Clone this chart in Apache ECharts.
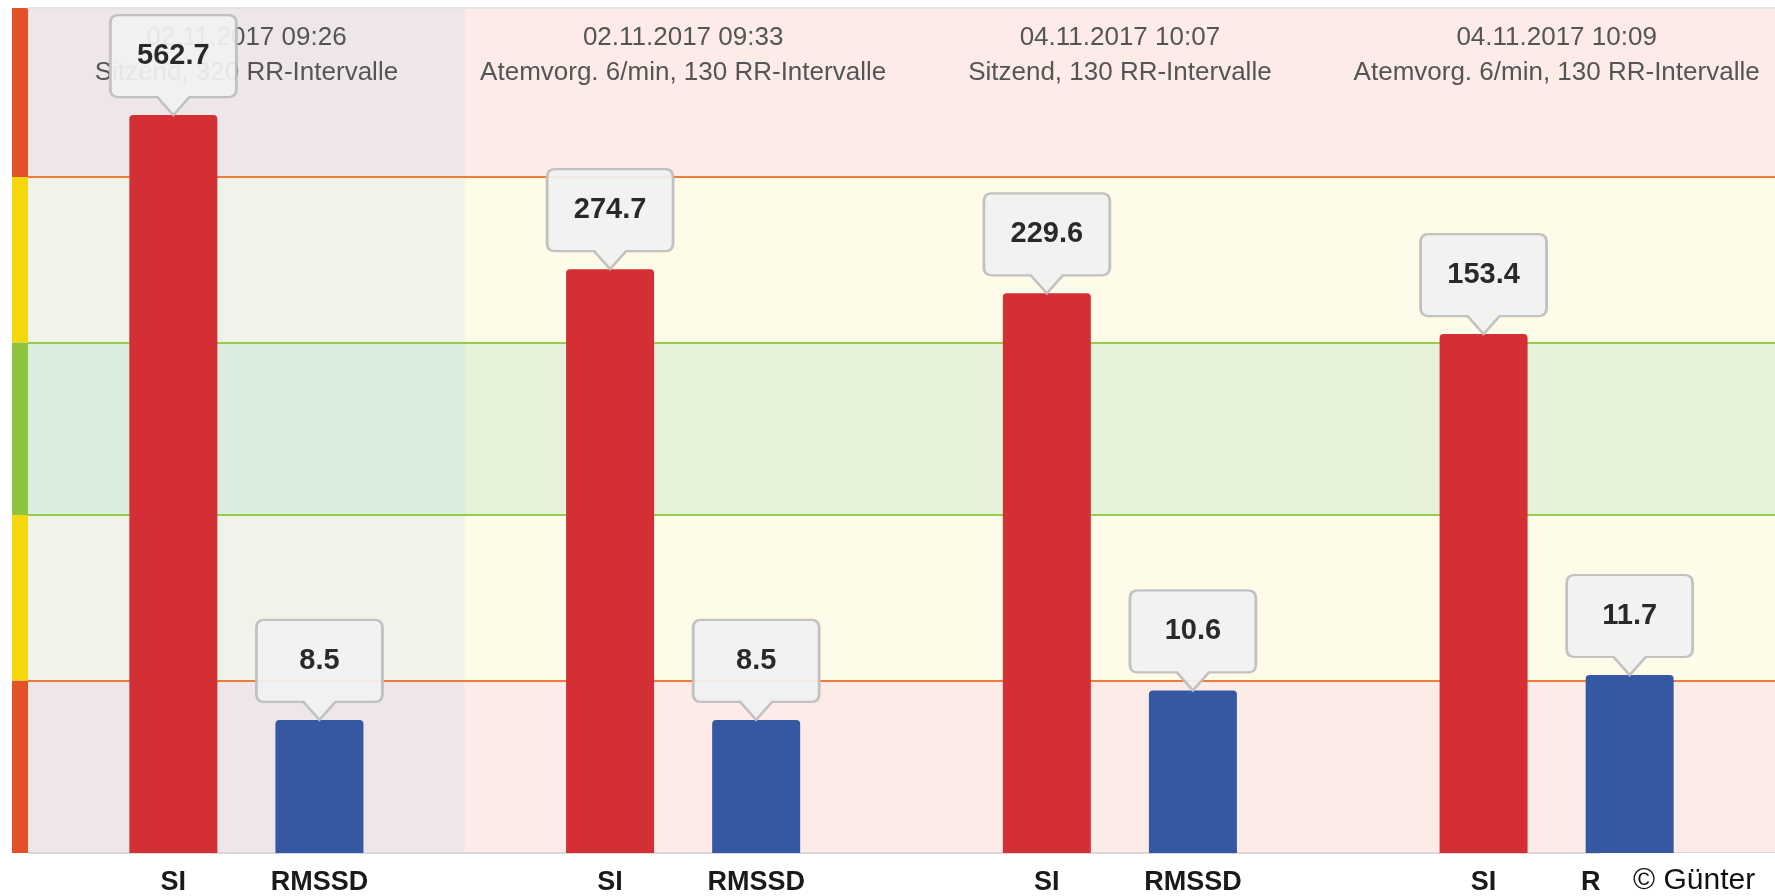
<!DOCTYPE html>
<html lang="de">
<head>
    <meta charset="UTF-8">
    <title>SI / RMSSD</title>
    <script src="https://cdn.jsdelivr.net/npm/echarts@6/dist/echarts.min.js"></script>
    <style>
        html, body { margin: 0; padding: 0; background: #fff; }
        #main { width: 1775px; height: 896px; }
    </style>
</head>
<body>
    <div id="main"></div>
    <script>
        // Messungen (Kopfzeilen oben)
        var groups = [
            '02.11.2017 09:26\nSitzend, 320 RR-Intervalle',
            '02.11.2017 09:33\nAtemvorg. 6/min, 130 RR-Intervalle',
            '04.11.2017 10:07\nSitzend, 130 RR-Intervalle',
            '04.11.2017 10:09\nAtemvorg. 6/min, 130 RR-Intervalle'
        ];
        var siValues = [562.7, 274.7, 229.6, 153.4];
        var rmssdValues = [8.5, 8.5, 10.6, 11.7];

        // Zonen: unten rot, gelb, gruen, gelb, oben rot
        var zoneBreaks = [0, 1.02, 2, 3.02, 4, 5];
        var zoneFill = ['#fcebe7', '#fefbe8', '#e6f3da', '#fefbe8', '#fcebe7'];
        var zoneStrip = ['#e35226', '#f4d80b', '#8cc43e', '#f4d80b', '#e35226'];
        var zoneLine = ['#ee7b3a', '#97cb4e', '#97cb4e', '#ee7b3a'];

        // jede Groesse hat ihre eigene Skala auf der Zonenachse
        function siZone(v) { return 2.585 + 0.003166 * v; }
        function rmssdZone(v) { return 0.081 + 0.0831 * v; }

        var font = "'Liberation Sans', Arial, sans-serif";
        var calloutPath = 'path://M8,0 H118 Q126,0 126,8 V74 Q126,82 118,82 H79 L63,100 L47,82 H8 Q0,82 0,74 V8 Q0,0 8,0 Z';

        function callouts(values, toZone) {
            return {
                symbol: calloutPath,
                symbolSize: [126, 100],
                symbolOffset: [0, '-50%'],
                silent: true,
                zlevel: 1,
                z: 10,
                itemStyle: {
                    color: '#f1f1f1',
                    opacity: 0.93,
                    borderColor: '#bdbdbd',
                    borderWidth: 2.5
                },
                label: {
                    show: true,
                    position: 'inside',
                    offset: [0, -9],
                    color: '#1a1a1a',
                    fontFamily: font,
                    fontWeight: 'bold',
                    fontSize: 29,
                    formatter: function (p) { return p.value; }
                },
                data: values.map(function (v, i) {
                    return { coord: [i, toZone(v)], value: v };
                })
            };
        }

        var zoneAreas = [];
        var stripAreas = [];
        for (var i = 0; i < zoneFill.length; i++) {
            zoneAreas.push([{ yAxis: zoneBreaks[i], itemStyle: { color: zoneFill[i] } }, { yAxis: zoneBreaks[i + 1] }]);
            stripAreas.push([{ yAxis: zoneBreaks[i], itemStyle: { color: zoneStrip[i] } }, { yAxis: zoneBreaks[i + 1] }]);
        }
        // erste Messung ist ausgewaehlt
        zoneAreas.push([{ xAxis: 0, itemStyle: { color: 'rgba(150,205,232,0.135)' } }, { xAxis: 1 }]);

        var myChart = echarts.init(document.getElementById('main'));

        var option = {
            animation: false,
            grid: [
                { left: 28, right: -8, top: 8, bottom: 43 },
                { left: 12, width: 16, top: 8, bottom: 43 }
            ],
            xAxis: [
                {
                    type: 'category', data: groups, gridIndex: 0,
                    axisLine: { lineStyle: { color: '#ddd6d6', width: 2 } },
                    axisTick: { show: false },
                    axisLabel: { show: false }
                },
                {
                    type: 'category', data: groups, gridIndex: 0, position: 'top', z: 1,
                    axisLine: { lineStyle: { color: '#e4e4e4', width: 2 } },
                    axisTick: { show: false },
                    axisLabel: {
                        inside: true, interval: 0, margin: 12,
                        color: '#555', fontFamily: font, fontSize: 26, lineHeight: 35
                    }
                },
                { type: 'value', gridIndex: 0, min: 0, max: 4, show: false },
                { type: 'value', gridIndex: 1, min: 0, max: 1, show: false }
            ],
            yAxis: [
                { type: 'value', gridIndex: 0, min: 0, max: 5, show: false },
                { type: 'value', gridIndex: 1, min: 0, max: 5, show: false }
            ],
            series: [
                {
                    name: 'zonen', type: 'line', xAxisIndex: 2, yAxisIndex: 0,
                    data: [], silent: true, z: 0,
                    markArea: { silent: true, z: 0, data: zoneAreas },
                    markLine: {
                        silent: true, symbol: 'none', z: 0,
                        label: { show: false },
                        data: zoneLine.map(function (c, i) {
                            return { yAxis: zoneBreaks[i + 1], lineStyle: { color: c, width: 2, type: 'solid' } };
                        })
                    }
                },
                {
                    name: 'SI', type: 'bar', xAxisIndex: 0, yAxisIndex: 0,
                    barWidth: 88, barGap: '66%', z: 3,
                    itemStyle: { color: '#d32f34', borderRadius: [4, 4, 0, 0] },
                    label: {
                        show: true, position: 'bottom', distance: 16,
                        color: '#1a1a1a', fontFamily: font, fontWeight: 'bold', fontSize: 27,
                        formatter: 'SI'
                    },
                    data: siValues.map(siZone),
                    markPoint: callouts(siValues, siZone)
                },
                {
                    name: 'RMSSD', type: 'bar', xAxisIndex: 0, yAxisIndex: 0,
                    barWidth: 88, z: 3,
                    itemStyle: { color: '#3558a3', borderRadius: [4, 4, 0, 0] },
                    label: {
                        show: true, position: 'bottom', distance: 16,
                        color: '#1a1a1a', fontFamily: font, fontWeight: 'bold', fontSize: 27,
                        formatter: 'RMSSD'
                    },
                    data: rmssdValues.map(rmssdZone),
                    markPoint: callouts(rmssdValues, rmssdZone)
                },
                {
                    name: 'leiste', type: 'line', xAxisIndex: 3, yAxisIndex: 1,
                    data: [], silent: true,
                    markArea: { silent: true, data: stripAreas }
                }
            ],
            graphic: [
                {
                    type: 'rect', right: 0, bottom: 0, z: 100, zlevel: 2,
                    shape: { width: 175, height: 43 }, style: { fill: '#fff' }
                },
                {
                    type: 'text', left: 1633, top: 866, z: 101, zlevel: 2,
                    style: { text: '\u00a9 G\u00fcnter', fill: '#111', font: '30px ' + font }
                }
            ]
        };

        myChart.setOption(option);
    </script>
</body>
</html>
